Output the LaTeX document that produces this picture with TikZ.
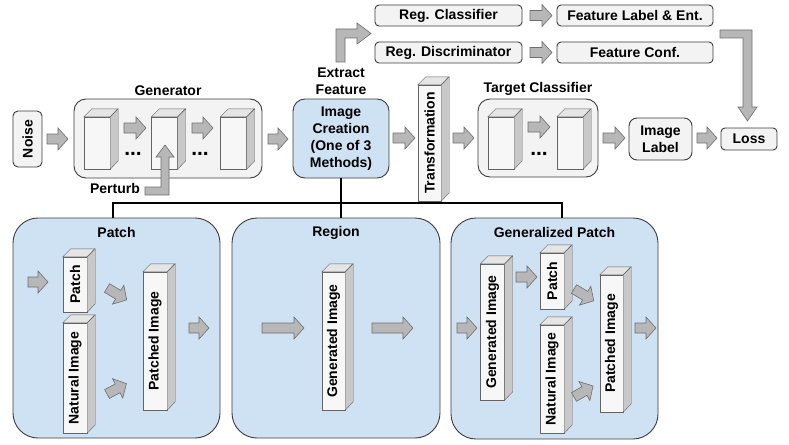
\documentclass[tikz,border=0pt]{standalone}
\usepackage{fontspec}
\setmainfont{Liberation Sans}
\usetikzlibrary{positioning}
\definecolor{boxgray}{RGB}{243,243,243}
\definecolor{boxblue}{RGB}{207,226,243}
\definecolor{boxedge}{RGB}{60,60,60}
\definecolor{arrowgray}{RGB}{183,183,183}
\definecolor{arrowedge}{RGB}{110,110,110}
\definecolor{slabside}{RGB}{200,200,200}
\definecolor{slabedge}{RGB}{100,100,100}

% 3d block: name, x, y, width, height, text
\newcommand{\slab}[6]{%
  \node[slab, minimum width=#4pt, minimum height=#5pt] (#1) at (#2,#3) {\rotatebox{90}{#6}};
  \draw[draw=slabedge, fill=white!90!black] (#1.north west) -- ++(8,-8) -- ++(#4,0) -- (#1.north east) -- cycle;
  \draw[draw=slabedge, fill=slabside] (#1.north east) -- ++(8,-8) -- ++(0,#5) -- (#1.south east) -- cycle;
}

\begin{document}
\begin{tikzpicture}[%
    x=1pt, y=-1pt,              % pixel grid, y going down
    font=\fontsize{14}{17}\selectfont\bfseries,
    ]
\tikzset{
  box/.style={draw=boxedge, fill=boxgray, rounded corners=4pt, inner sep=0pt, align=center, line width=0.9pt},
  bluebox/.style={box, fill=boxblue},
  panel/.style={bluebox, rounded corners=25pt},
  lbl/.style={inner sep=0pt, align=center},
  dots/.style={lbl, font=\fontsize{21}{21}\selectfont\bfseries},
  slab/.style={draw=slabedge, fill=white!97!black, inner sep=0pt},
  wire/.style={line width=1.2pt},
  larrow/.style={draw=arrowedge, fill=arrowgray, line width=0.6pt},
  pics/barrow/.style={code={
    \draw[larrow] (0,-5) -- (#1-10,-5) -- (#1-10,-11) -- (#1,0) -- (#1-10,11) -- (#1-10,5) -- (0,5) -- cycle;
  }},
}
\useasboundingbox (0,0) rectangle (789,444);

% generator
\node[box, rounded corners=5pt, minimum width=29pt, minimum height=56pt] (noise) at (27.5,139) {\rotatebox{90}{Noise}};
\pic at (47,139) {barrow=21};
\node[box, rounded corners=12pt, minimum width=188pt, minimum height=79pt] (gen) at (168,138.5) {};
\node[lbl, above=3pt of gen] (genlbl) {Generator};
\slab{g1}{97}{143}{26}{52}{}
\slab{g2}{164.5}{143}{26}{52}{}
\slab{g3}{233.5}{143}{26}{52}{}
\pic at (124,128) {barrow=22};
\pic at (192,128) {barrow=21};
\node[dots] (gdots1) at (133,154) {...};
\node[dots] (gdots2) at (200,154) {...};
\node[lbl] (perturb) at (115,188) {Perturb};
\draw[larrow] (145,187) -- (161,187) -- (161,157) -- (156,157) -- (165,145) -- (174,157) -- (169,157) -- (169,195) -- (145,195) -- cycle;
\pic at (268,139) {barrow=20};

% image creation
\node[bluebox, rounded corners=12pt, minimum width=96pt, minimum height=79pt] (ic) at (341,138.5) {Image\\Creation\\(One of 3\\Methods)};
\node[lbl, above=4pt of ic] (extract) {Extract\\Feature};
\draw[larrow] (336,62) -- (336,29) -- (357,29) -- (357,23) -- (371,33.5) -- (357,44) -- (357,38) -- (345,38) -- (345,62) -- cycle;

% regularizers
\node[box, minimum width=147pt, minimum height=21pt] (regc) at (448.5,15.5) {Reg. Classifier};
\node[box, minimum width=147pt, minimum height=21pt] (regd) at (448.5,52.5) {Reg. Discriminator};
\pic at (530,15.5) {barrow=22};
\pic at (530,52.5) {barrow=22};
\node[box, minimum width=156pt, minimum height=21pt] (flab) at (635,15.5) {Feature Label \& Ent.};
\node[box, minimum width=156pt, minimum height=21pt] (fconf) at (635,52.5) {Feature Conf.};
\draw[larrow] (720,30) -- (752,30) -- (752,107) -- (757,107) -- (747.5,121) -- (738,107) -- (743,107) -- (743,38) -- (720,38) -- cycle;

% target side
\pic at (393,138) {barrow=22};
\slab{trans}{429.5}{143}{23}{116}{Transformation}
\pic at (453,138) {barrow=21};
\node[box, rounded corners=12pt, minimum width=120pt, minimum height=78pt] (target) at (538,138) {};
\node[lbl, above=3pt of target] (targetlbl) {Target Classifier};
\slab{t1}{501}{143}{26}{52}{}
\slab{t2}{570}{143}{26}{52}{}
\pic at (528,127) {barrow=22};
\node[dots] (tdots) at (539,154) {...};
\pic at (603,138) {barrow=22};
\node[box, rounded corners=8pt, minimum width=63pt, minimum height=42pt] (ilabel) at (660.5,139) {Image\\Label};
\pic at (697,138) {barrow=20};
\node[box, minimum width=56pt, minimum height=22pt] (loss) at (749,139) {Loss};

% patch
\node[panel, minimum width=207pt, minimum height=220pt] (patchbox) at (116.5,328) {};
\node[lbl] (patchlbl) at ([yshift=-15pt]patchbox.north) {Patch};
\pic at (28,282) {barrow=20};
\slab{p1}{75}{284.5}{24}{55}{Patch}
\slab{p2}{75}{378}{24}{110}{Natural Image}
\pic[rotate=-31] at (107,288) {barrow=23};
\pic[rotate=28] at (107,394) {barrow=22};
\slab{p3}{155}{341}{24}{138}{Patched Image}
\pic at (189,328) {barrow=20};

% region
\node[panel, minimum width=208pt, minimum height=220pt] (regionbox) at (336,328) {};
\node[lbl] (regionlbl) at ([yshift=-15pt]regionbox.north) {Region};
\pic at (262,328) {barrow=42};
\slab{r1}{333.5}{341}{23}{138}{Generated Image}
\pic at (372,328) {barrow=41};

% generalized patch
\node[panel, minimum width=207pt, minimum height=221pt] (gpatchbox) at (554.5,328.5) {};
\node[lbl] (gpatchlbl) at ([yshift=-15pt]gpatchbox.north) {Generalized Patch};
\pic at (457,328) {barrow=20};
\slab{q1}{492.5}{332}{24}{136}{Generated Image}
\pic at (516,277) {barrow=21};
\slab{q2}{552}{281}{24}{56}{Patch}
\slab{q3}{552}{379}{24}{108}{Natural Image}
\pic[rotate=-31] at (574,289) {barrow=23};
\pic[rotate=30] at (574,397) {barrow=22};
\slab{q4}{611.5}{343.5}{23}{137}{Patched Image}
\pic at (635,328) {barrow=21};

%connect
\coordinate (fork) at (341,203);
\draw[wire] (ic.south) -- (ic.south |- regionbox.north);
\draw[wire] ([xshift=-3.5pt]patchbox.north) |- (fork) -| ([xshift=7.5pt]gpatchbox.north);

\end{tikzpicture}
\end{document}
